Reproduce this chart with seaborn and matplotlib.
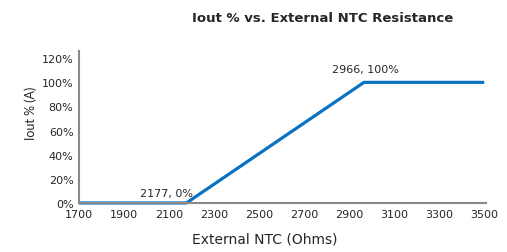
import matplotlib
matplotlib.use("Agg")
import matplotlib.pyplot as plt
import seaborn as sns
import pandas as pd

# Data
ntc_ohms = [1700, 2177, 2966, 3500]
iout_pct = [0, 0, 100, 100]
x_ticks = [1700, 1900, 2100, 2300, 2500, 2700, 2900, 3100, 3300, 3500]
y_ticks = [0, 20, 40, 60, 80, 100, 120]
annotations = [(2177, 0, "2177, 0%"), (2966, 100, "2966, 100%")]

sns.set_style("white")
plt.rcParams['font.family'] = ['DejaVu Sans']

df = pd.DataFrame({"ntc": ntc_ohms, "iout": iout_pct})

fig = plt.figure(figsize=(5.07, 2.53), dpi=100)
ax = fig.add_axes([79/507, 1-204/253, (486-79)/507, (204-52)/253])

sns.lineplot(data=df, x="ntc", y="iout", ax=ax, color="#0A72C2", linewidth=2.3,
             solid_capstyle="butt", clip_on=False)

txt_col = "#262626"
ax.set_xlim(1700, 3508)
ax.set_ylim(0, 126)
ax.set_xticks(x_ticks)
ax.set_xticklabels([str(v) for v in x_ticks], fontsize=8, color=txt_col)
ax.set_yticks(y_ticks)
ax.set_yticklabels([f"{v}%" for v in y_ticks], fontsize=8, color=txt_col)
ax.tick_params(axis="both", length=0)
ax.tick_params(axis="x", pad=4)
ax.tick_params(axis="y", pad=4)

for s in ["top", "right"]:
    ax.spines[s].set_visible(False)
for s in ["left", "bottom"]:
    ax.spines[s].set_color("#8a8a8a")
    ax.spines[s].set_linewidth(1.5)

ax.set_xlabel("")
ax.set_ylabel("")
fig.text(265/507, 1-240/253, "External NTC (Ohms)", ha="center", va="center",
         fontsize=10, color=txt_col)
fig.text(31/507, 1-113/253, "Iout % (A)", ha="center", va="center",
         rotation=90, fontsize=9, color=txt_col, family=["Lato", "DejaVu Sans"])

offsets = {"2177, 0%": (-14, 3.5), "2966, 100%": (1, 6)}
for xv, yv, txt in annotations:
    dx, dy = offsets[txt]
    ax.annotate(txt, (xv, yv), xytext=(dx, dy), textcoords="offset points",
                ha="center", va="bottom", fontsize=8, color=txt_col)

fig.text(323/507, 1-19/253, "Iout % vs. External NTC Resistance", ha="center",
         va="center", fontsize=9.5, fontweight="bold", color=txt_col)

fig.savefig("out.png", dpi=100)
